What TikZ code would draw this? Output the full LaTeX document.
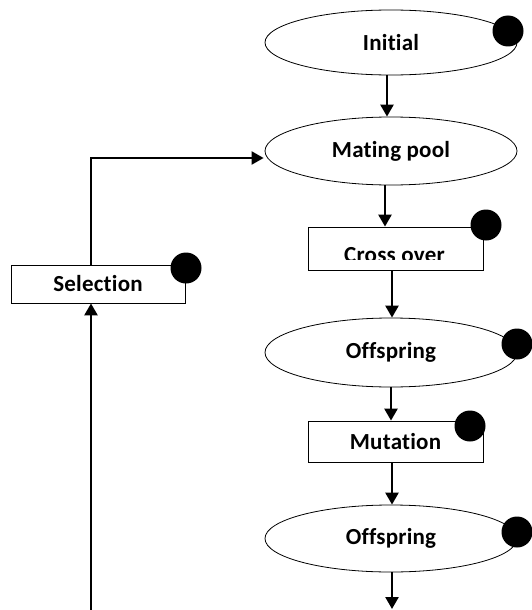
\documentclass[tikz,border=0pt]{standalone}
\usepackage{fontspec}
\setmainfont[Ligatures=NoCommon,LetterSpace=1]{Carlito}
\usetikzlibrary{shapes.geometric,arrows.meta}
\begin{document}
\begin{tikzpicture}[x=1pt,y=-1pt,
  oval/.style={draw,ellipse,line width=0.8pt,minimum width=252pt,inner sep=0pt},
  box/.style={draw,rectangle,line width=0.8pt,inner sep=0pt},
  lbl/.style={font=\fontsize{23}{27}\selectfont\bfseries},
  dot/.style={circle,fill=black,inner sep=0pt,minimum size=31pt},
  arr/.style={line width=2.5pt,-{Triangle[length=12pt,width=13pt]}},
  wire/.style={line width=2.2pt}]
\useasboundingbox (0,0) rectangle (532,610);

% main column
\node[oval,lbl,minimum height=65pt] (init) at (391,42.5) {Initial};
\node[oval,lbl,minimum height=68pt] (pool) at (391,151) {Mating pool};
\node[box,minimum width=175pt,minimum height=43pt] (cross) at (395.5,248.5) {};
\begin{scope}
  \clip (308,227) rectangle (483,259.5);
  \node[lbl,anchor=base] (crosstext) at (394.5,262) {Cross over};
\end{scope}
\node[oval,lbl,minimum height=69pt] (off1) at (391,352.5) {Offspring};
\node[box,lbl,minimum width=175pt,minimum height=41pt] (mut) at (395.5,441.5) {Mutation};
\node[oval,lbl,minimum height=67pt] (off2) at (391,538.5) {Offspring};

% side box
\node[box,lbl,minimum width=174pt,minimum height=38pt] (sel) at (98,284) {Selection};

% markers
\node[dot] (d1) at (508,31) {};
\node[dot] (d2) at (486,225) {};
\node[dot] (d3) at (517,344) {};
\node[dot] (d4) at (470,426) {};
\node[dot] (d5) at (517,532) {};
\node[dot] (d6) at (186,268) {};

% flow
\draw[arr] ([xshift=-4pt]init.south) -- ([xshift=-4pt]pool.north);
\draw[arr] ([xshift=-6pt]pool.south) -- ([xshift=-10.5pt]cross.north);
\draw[arr] ([xshift=-3.5pt]cross.south) -- ([xshift=1pt]off1.north);
\draw[arr] (off1.south) -- ([xshift=-4.5pt]mut.north);
\draw[arr] ([xshift=-3.5pt]mut.south) -- ([xshift=1pt]off2.north);
\coordinate (out) at (392,609);
\draw[arr] ([xshift=1pt]off2.south) -- (out);

% feedback loop
\coordinate (back) at (91,610);
\draw[arr] (back) -- ([xshift=-7pt]sel.south);
\draw[arr,line width=2.2pt] ([xshift=-7pt]sel.north) |- ([xshift=-1pt,yshift=-7pt]pool.west);
\end{tikzpicture}
\end{document}
